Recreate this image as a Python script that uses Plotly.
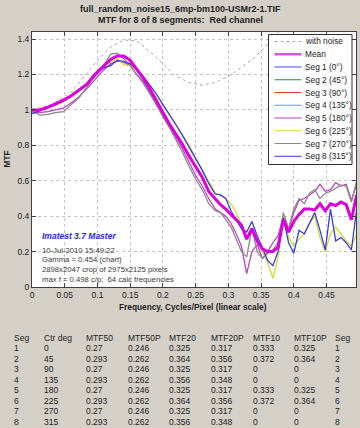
import plotly.graph_objects as go

# ---------------- data ----------------
freq = [0, 0.012, 0.024, 0.036, 0.048, 0.06, 0.072, 0.084, 0.096, 0.108, 0.12,
        0.13, 0.14, 0.15, 0.16, 0.17, 0.18, 0.19, 0.2, 0.21, 0.22, 0.23, 0.24, 0.25, 0.26, 0.27, 0.28,
        0.288, 0.296, 0.304, 0.312, 0.32, 0.328, 0.336, 0.344, 0.352, 0.36, 0.368, 0.376, 0.384,
        0.392, 0.4, 0.408, 0.416, 0.424, 0.432, 0.44, 0.448, 0.456, 0.464, 0.472, 0.48, 0.488, 0.496]

mean_mtf = [1.0, 1.0, 1.015, 1.035, 1.055, 1.08, 1.11, 1.145, 1.2, 1.245, 1.285,
            1.305, 1.305, 1.28, 1.23, 1.18, 1.12, 1.05, 0.985, 0.92, 0.865, 0.805, 0.74, 0.68, 0.62, 0.54, 0.495,
            0.465, 0.44, 0.41, 0.385, 0.35, 0.27, 0.33, 0.26, 0.215, 0.2, 0.2, 0.225, 0.38,
            0.31, 0.37, 0.41, 0.44, 0.44, 0.435, 0.47, 0.43, 0.47, 0.46, 0.48, 0.465, 0.38, 0.52]

# Seg 5 (180 deg) - thin magenta; Seg 1 (0 deg) lies under it
seg5 = [0.98, 0.985, 0.99, 1.0, 1.01, 1.04, 1.075, 1.12, 1.17, 1.22, 1.26,
        1.275, 1.27, 1.25, 1.2, 1.16, 1.1, 1.03, 0.97, 0.91, 0.845, 0.78, 0.7, 0.63, 0.57, 0.5, 0.44,
        0.42, 0.4, 0.36, 0.3, 0.23, 0.075, 0.2, 0.24, 0.16, 0.2, 0.25, 0.29, 0.4,
        0.32, 0.42, 0.49, 0.5, 0.52, 0.54, 0.58, 0.54, 0.55, 0.59, 0.57, 0.58, 0.49, 0.58]
seg1 = list(seg5)

# Seg 7 (270 deg) - gray; Seg 3 (90 deg) lies under it
seg7 = [1.0, 0.97, 0.975, 0.985, 0.99, 1.03, 1.07, 1.13, 1.19, 1.24, 1.315,
        1.32, 1.29, 1.25, 1.2, 1.15, 1.09, 1.03, 0.96, 0.9, 0.83, 0.76, 0.68, 0.61, 0.55, 0.47, 0.43,
        0.42, 0.38, 0.34, 0.27, 0.2, 0.17, 0.33, 0.2, 0.16, 0.19, 0.21, 0.25, 0.42,
        0.33, 0.44, 0.5, 0.47, 0.53, 0.55, 0.5, 0.53, 0.54, 0.56, 0.575, 0.57, 0.48, 0.6]
seg3 = list(seg7)

# Seg 6 (225 deg) - yellow; Seg 2 (45 deg) lies under it
seg6 = [0.99, 1.0, 1.01, 1.025, 1.045, 1.075, 1.105, 1.145, 1.19, 1.235, 1.27,
        1.29, 1.255, 1.25, 1.225, 1.185, 1.14, 1.09, 1.035, 0.98, 0.92, 0.86, 0.8, 0.73, 0.665, 0.6, 0.53,
        0.52, 0.5, 0.47, 0.42, 0.35, 0.28, 0.32, 0.26, 0.2, 0.14, 0.05, 0.17, 0.4,
        0.28, 0.23, 0.27, 0.3, 0.36, 0.4, 0.28, 0.2, 0.3, 0.34, 0.3, 0.26, 0.23, 0.3]
seg2 = list(seg6)

# Seg 8 (315 deg) - blue; Seg 4 (135 deg) lies under it
seg8 = [0.98, 0.995, 1.015, 1.03, 1.05, 1.08, 1.11, 1.15, 1.19, 1.235, 1.25,
        1.28, 1.275, 1.26, 1.23, 1.19, 1.14, 1.09, 1.03, 0.975, 0.915, 0.855, 0.79, 0.72, 0.66, 0.585, 0.525,
        0.52, 0.5, 0.43, 0.38, 0.33, 0.31, 0.37, 0.29, 0.22, 0.15, 0.12, 0.2, 0.39,
        0.25, 0.19, 0.32, 0.3, 0.36, 0.42, 0.32, 0.21, 0.44, 0.26, 0.28, 0.25, 0.21, 0.44]
seg4 = list(seg8)

noise_freq = [0, 0.03, 0.06, 0.08, 0.1, 0.12, 0.14, 0.16, 0.18, 0.2, 0.22, 0.24, 0.26,
              0.28, 0.3, 0.32, 0.34, 0.36, 0.38, 0.4]
noise_mtf = [1.0, 1.03, 1.1, 1.19, 1.28, 1.355, 1.395, 1.39, 1.33, 1.26, 1.19, 1.155, 1.14,
             1.155, 1.19, 1.24, 1.295, 1.37, 1.45, 1.53]

seg_angles = [0, 45, 90, 135, 180, 225, 270, 315]
seg_colors = ["#4646ff", "#2a8a2a", "#ee3030", "#33b0ff", "#c040c0", "#dcdc20", "#8a8a8a", "#3434f0"]
seg_data = [seg1, seg2, seg3, seg4, seg5, seg6, seg7, seg8]
seg_on_top = [False, False, False, False, True, True, True, True]

x_tickvals = [0, 0.05, 0.1, 0.15, 0.2, 0.25, 0.3, 0.35, 0.4, 0.45]
x_ticktext = ["0", "0.05", "0.1", "0.15", "0.2", "0.25", "0.3", "0.35", "0.4", "0.45"]
y_tickvals = [0, 0.2, 0.4, 0.6, 0.8, 1.0, 1.2, 1.4]
y_ticktext = ["0", "0.2", "0.4", "0.6", "0.8", "1", "1.2", "1.4"]

# results table
tbl_header = ["Seg", "Ctr deg", "MTF50", "MTF50P", "MTF20", "MTF20P", "MTF10", "MTF10P", "Seg"]
tbl_seg = [1, 2, 3, 4, 5, 6, 7, 8]
tbl_ctr = [0, 45, 90, 135, 180, 225, 270, 315]
tbl_mtf50 = ["0.27", "0.293", "0.27", "0.293", "0.27", "0.293", "0.27", "0.293"]
tbl_mtf50p = ["0.246", "0.262", "0.246", "0.262", "0.246", "0.262", "0.246", "0.262"]
tbl_mtf20 = ["0.325", "0.364", "0.325", "0.356", "0.325", "0.364", "0.325", "0.356"]
tbl_mtf20p = ["0.317", "0.356", "0.317", "0.348", "0.317", "0.356", "0.317", "0.348"]
tbl_mtf10 = ["0.333", "0.372", "0", "0", "0.333", "0.372", "0", "0"]
tbl_mtf10p = ["0.325", "0.364", "0", "0", "0.325", "0.364", "0", "0"]

info_lines = ["10-Jul-2010 15:49:22", "Gamma = 0.454 (chart)",
              "2898x2047 crop of 2975x2125 pixels", "max f = 0.498 c/p;  64 calc frequencies"]

# ---------------- layout geometry (pixels) ----------------
W_FIG, H_FIG = 360, 428
L, R, T, B = 32, 356, 32, 287
PW, PH = R - L, B - T
FONT = "Liberation Sans, Arial, sans-serif"
TXT = "#222222"


def px(xp):
    return (xp - L) / PW


def py(yp):
    return (B - yp) / PH


fig = go.Figure()

fig.add_trace(go.Scatter(x=noise_freq, y=noise_mtf, mode="lines",
                         line=dict(color="#a8a8a8", width=1, dash="dot"),
                         showlegend=False, hoverinfo="skip"))
for i in range(8):
    fig.add_trace(go.Scatter(x=freq, y=seg_data[i], mode="lines",
                             line=dict(color=seg_colors[i], width=1.2 if seg_on_top[i] else 0.3),
                             showlegend=False))
fig.add_trace(go.Scatter(x=freq, y=mean_mtf, mode="lines",
                         line=dict(color="#dd00dd", width=3),
                         showlegend=False))

axis_common = dict(showline=True, linecolor="#404040", linewidth=1, mirror="ticks",
                   ticks="inside", ticklen=4, tickcolor="#404040",
                   showgrid=True, gridcolor="#c4c4c4", griddash="dot", gridwidth=1,
                   zeroline=False, tickfont=dict(family=FONT, size=8.5, color=TXT))

fig.update_xaxes(range=[0, 0.495], tickvals=x_tickvals, ticktext=x_ticktext, **axis_common)
fig.update_yaxes(range=[0, 1.44], tickvals=y_tickvals, ticktext=y_ticktext, **axis_common)

shapes = []
annotations = []

# titles
annotations.append(dict(text="<b>full_random_noise15_6mp-bm100-USMr2-1.TIF</b>", x=px(180), y=py(8.5),
                        font=dict(family=FONT, size=9, color=TXT)))
annotations.append(dict(text="<b>MTF for 8 of 8 segments:  Red channel</b>", x=px(180), y=py(20),
                        font=dict(family=FONT, size=9, color=TXT)))
annotations.append(dict(text="<b>Frequency, Cycles/Pixel (linear scale)</b>", x=px(193), y=py(307),
                        font=dict(family=FONT, size=8.3, color=TXT)))
annotations.append(dict(text="<b>MTF</b>", x=px(6.5), y=py(159), textangle=-90,
                        font=dict(family=FONT, size=8.3, color=TXT)))

# info text inside plot
annotations.append(dict(text="<b><i>Imatest 3.7 Master</i></b>", x=px(41), y=py(236), xanchor="left",
                        font=dict(family=FONT, size=8.5, color="#2a2ae6")))
for k, s in enumerate(info_lines):
    annotations.append(dict(text=s, x=px(41), y=py(250 + 9.7 * k), xanchor="left",
                            font=dict(family=FONT, size=7.7, color="#3a3a3a")))

# manual legend
shapes.append(dict(type="rect", xref="paper", yref="paper", x0=px(268.5), x1=px(352),
                   y0=py(164.5), y1=py(34.5), fillcolor="white",
                   line=dict(color="#303030", width=1), layer="above"))
leg_labels = ["with noise", "Mean"] + [f"Seg {i + 1} ({a}°)" for i, a in enumerate(seg_angles)]
leg_colors = ["#a8a8a8", "#e050e0"] + seg_colors
leg_widths = [1, 2.5] + [1] * 8
leg_dash = ["dot", "solid"] + ["solid"] * 8
for k in range(10):
    yy = 41.5 + 12.75 * k
    shapes.append(dict(type="line", xref="paper", yref="paper", x0=px(274.5), x1=px(301.5),
                       y0=py(yy), y1=py(yy), layer="above",
                       line=dict(color=leg_colors[k], width=leg_widths[k], dash=leg_dash[k])))
    annotations.append(dict(text=leg_labels[k], x=px(304), y=py(yy), xanchor="left",
                            font=dict(family=FONT, size=8.3, color=TXT)))

# results table below chart
col_x = [13, 43, 85, 127, 168, 210, 252, 293, 334]
row_y0, row_dy = 337.7, 10.5
for c, h in enumerate(tbl_header):
    annotations.append(dict(text=h, x=px(col_x[c]), y=py(row_y0), xanchor="left",
                            font=dict(family=FONT, size=8.5, color=TXT)))
for r in range(8):
    vals = [str(tbl_seg[r]), str(tbl_ctr[r]), tbl_mtf50[r], tbl_mtf50p[r], tbl_mtf20[r],
            tbl_mtf20p[r], tbl_mtf10[r], tbl_mtf10p[r], str(tbl_seg[r])]
    for c, v in enumerate(vals):
        annotations.append(dict(text=v, x=px(col_x[c]), y=py(row_y0 + row_dy * (r + 1)), xanchor="left",
                                font=dict(family=FONT, size=8.5, color=TXT)))

for a in annotations:
    a.setdefault("xref", "paper")
    a.setdefault("yref", "paper")
    a.setdefault("showarrow", False)
    a.setdefault("yanchor", "middle")
    a.setdefault("xanchor", "center")
    a["borderpad"] = 0

fig.update_layout(width=W_FIG, height=H_FIG, autosize=False,
                  margin=dict(l=L, r=W_FIG - R, t=T, b=H_FIG - B, pad=0),
                  paper_bgcolor="#d4d0c8", plot_bgcolor="white",
                  shapes=shapes, annotations=annotations, showlegend=False,
                  font=dict(family=FONT, color=TXT))

fig.write_html("out.html", config={"displayModeBar": False},
               post_script="document.body.style.margin='0';document.body.style.overflow='hidden';")
